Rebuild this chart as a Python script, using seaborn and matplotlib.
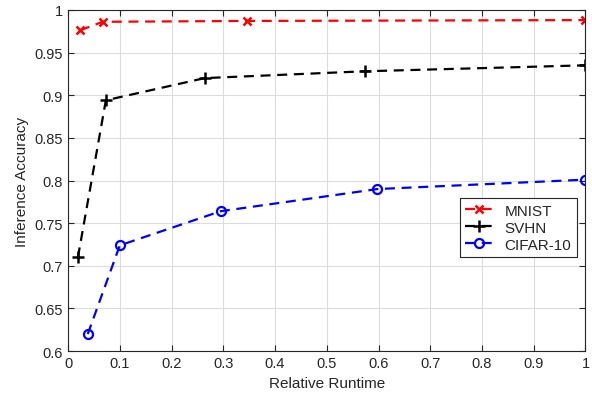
import numpy as np
import seaborn as sns
import matplotlib.pyplot as plt
from matplotlib.ticker import FuncFormatter

# data
mnist_x = [0.023, 0.067, 0.345, 1.0]
mnist_y = [0.976, 0.986, 0.987, 0.988]
svhn_x = [0.019, 0.073, 0.264, 0.573, 1.0]
svhn_y = [0.710, 0.894, 0.920, 0.928, 0.935]
cifar_x = [0.038, 0.100, 0.295, 0.598, 1.0]
cifar_y = [0.620, 0.724, 0.764, 0.790, 0.801]

sns.set_style("whitegrid")
plt.rcParams['font.family'] = ['Liberation Sans', 'DejaVu Sans']

fig = plt.figure(figsize=(5.92, 4.02), dpi=100)
ax = fig.add_axes([0.115, 0.124, 0.874, 0.849])

dash = (4.5, 3)
sns.lineplot(x=mnist_x, y=mnist_y, ax=ax, color="#ff0000", lw=1.6, dashes=dash,
             marker="x", markersize=6, markeredgewidth=1.8, markeredgecolor="#ff0000",
             label="MNIST")
sns.lineplot(x=svhn_x, y=svhn_y, ax=ax, color="black", lw=1.6, dashes=dash,
             marker="+", markersize=9, markeredgewidth=1.8, markeredgecolor="black",
             label="SVHN")
sns.lineplot(x=cifar_x, y=cifar_y, ax=ax, color="#0000ff", lw=1.6, dashes=dash,
             marker="o", markersize=6.5, markeredgewidth=1.6, markerfacecolor="none",
             markeredgecolor="#0000ff", label="CIFAR-10")

ax.set_xlim(0, 1)
ax.set_ylim(0.6, 1)
ax.set_xticks(np.arange(0, 1.01, 0.1))
ax.set_yticks(np.arange(0.6, 1.001, 0.05))
ax.xaxis.set_major_formatter(FuncFormatter(lambda v, p: "%g" % round(v, 2)))
ax.yaxis.set_major_formatter(FuncFormatter(lambda v, p: "%g" % round(v, 2)))

ax.grid(True, color="#dcdcdc", lw=0.8)
for s in ax.spines.values():
    s.set_color("#262626")
    s.set_linewidth(0.8)
ax.tick_params(direction="in", length=4, color="#262626", labelsize=10.5,
               labelcolor="#262626", top=True, right=True, bottom=True, left=True)

ax.set_xlabel("Relative Runtime", fontsize=11, color="#262626")
ax.set_ylabel("Inference Accuracy", fontsize=11, color="#262626")

leg = ax.legend(loc="upper right", bbox_to_anchor=(0.998, 0.47), fontsize=11,
                frameon=True, fancybox=False, edgecolor="#262626", framealpha=1,
                handlelength=1.8, borderpad=0.35, labelspacing=0.2)
leg.get_frame().set_linewidth(0.8)

fig.savefig("out.png", dpi=100)
